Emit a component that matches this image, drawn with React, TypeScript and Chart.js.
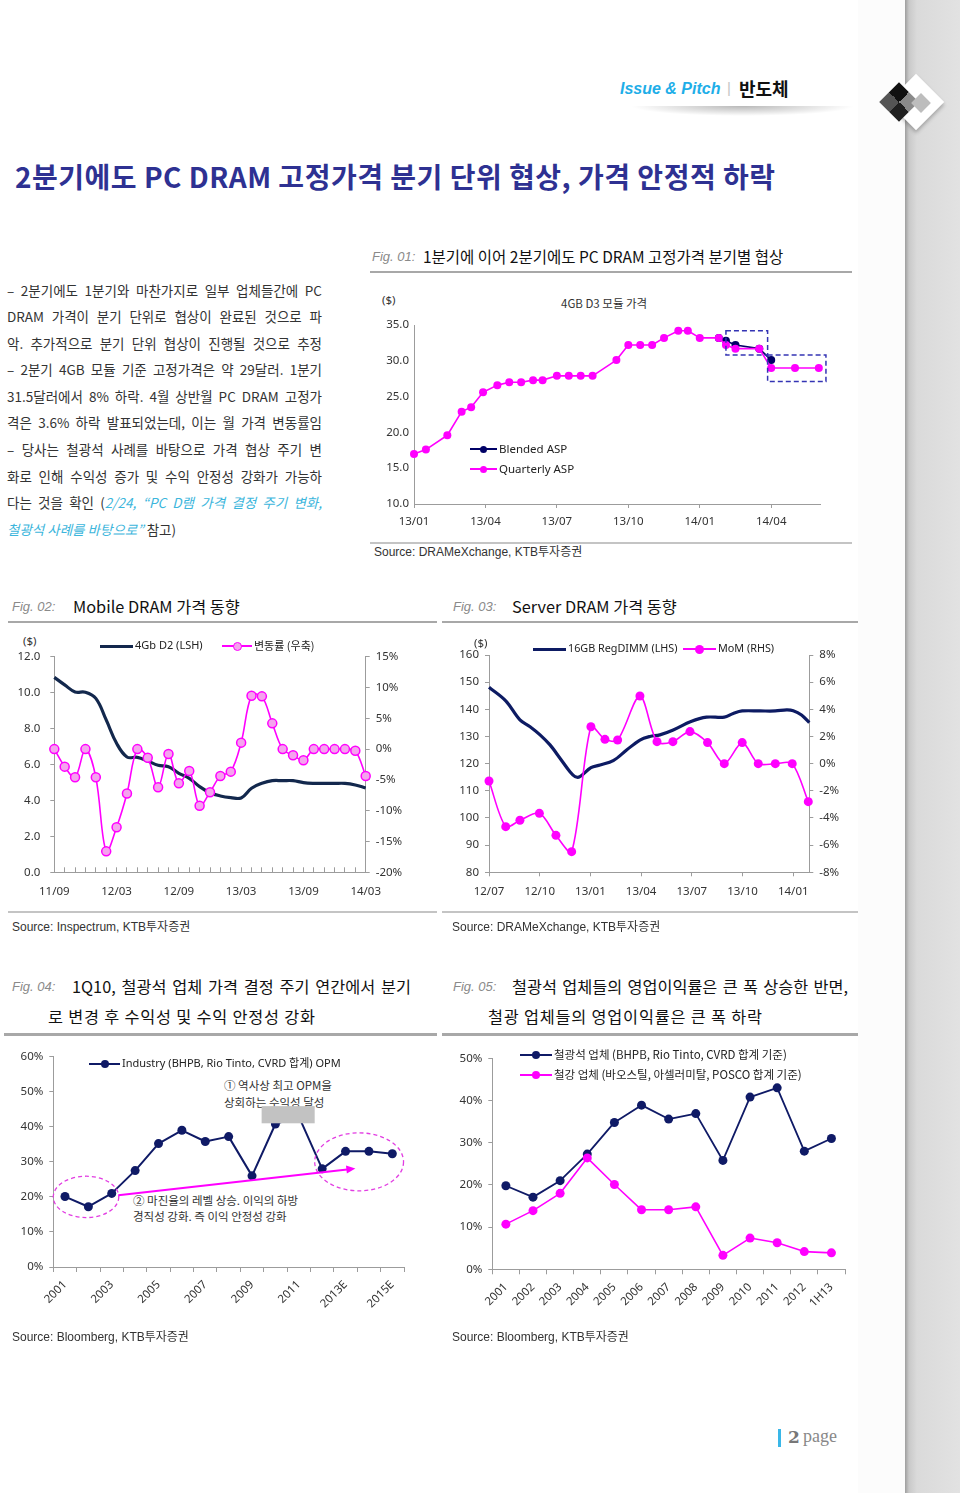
import React, { useEffect, useRef } from 'react';
import { Chart, registerables } from 'chart.js';
Chart.register(...registerables);

// ---------------- Fig 01 data ----------------
const fig01Months = [0, 0.5, 1.4, 2, 2.4, 2.9, 3.5, 4, 4.5, 5, 5.4, 6, 6.5, 7, 7.5, 8.5, 9, 9.5, 10, 10.5, 11.1, 11.5, 12, 12.8, 13.1, 13.5, 14.5, 15, 16, 17];
const fig01Quarterly = [17.0, 17.6, 19.6, 22.9, 23.5, 25.6, 26.6, 27.0, 27.0, 27.3, 27.3, 27.9, 27.9, 27.9, 27.9, 30.1, 32.2, 32.2, 32.2, 33.2, 34.2, 34.2, 33.2, 33.2, 32.2, 31.7, 31.7, 29.0, 29.0, 29.0];
const fig01Blended: (number | null)[] = [null, null, null, null, null, null, null, null, null, null, null, null, null, null, null, null, null, null, null, null, null, null, null, 33.2, 32.8, 32.2, 31.7, 30.1, null, null];
const fig01TickMonths = [0, 3, 6, 9, 12, 15];
const fig01TickLabels = ['13/01', '13/04', '13/07', '13/10', '14/01', '14/04'];

// ---------------- Fig 02 data ----------------
const fig02Price = [10.85, 10.43, 10.04, 10.02, 9.68, 8.48, 7.18, 6.42, 6.4, 6.2, 5.96, 5.88, 5.51, 5.23, 4.77, 4.43, 4.25, 4.16, 4.14, 4.68, 4.95, 5.1, 5.1, 5.1, 4.99, 4.95, 4.95, 4.95, 4.95, 4.86, 4.69];
const fig02Change = [0, -2.85, -4.58, 0, -4.58, -16.6, -12.7, -7.2, 0, -1.4, -6.2, -0.8, -5.55, -3.55, -9.2, -7.0, -4.36, -3.66, 1.05, 8.67, 8.56, 4.18, 0, -1.0, -1.8, 0, 0, 0, 0, -0.27, -4.36];
const fig02TickLabels = ['11/09', '12/03', '12/09', '13/03', '13/09', '14/03'];

// ---------------- Fig 03 data ----------------
const fig03PriceMonths = [0, 0.99, 1.83, 2.43, 3.02, 3.61, 4.2, 4.79, 5.09, 5.38, 6.03, 6.57, 7.35, 8.14, 8.93, 9.52, 10.11, 10.9, 11.95, 12.87, 13.92, 14.45, 14.98, 16.03, 16.94, 17.61, 18.0, 18.49, 18.95];
const fig03Price = [148.1, 143.1, 136.1, 133.6, 130.6, 126.9, 122.0, 117.0, 115.2, 115.2, 118.5, 119.5, 121.1, 125.0, 128.7, 130.0, 130.6, 132.4, 135.5, 137.1, 137.1, 138.5, 139.4, 139.4, 139.4, 139.8, 139.5, 137.9, 135.1];
const fig03MomMonths = [0, 0.99, 1.83, 2.98, 3.96, 4.89, 6.03, 6.86, 7.61, 8.93, 9.94, 10.88, 11.89, 12.93, 13.92, 14.98, 15.93, 16.94, 17.94, 18.89];
const fig03Mom = [-1.28, -4.64, -4.17, -3.66, -5.28, -6.48, 2.72, 1.79, 1.74, 4.98, 1.62, 1.62, 2.36, 1.55, 0.0, 1.55, 0.0, 0.0, 0.0, -2.8];
const fig03TickMonths = [0, 3, 6, 9, 12, 15, 18];
const fig03TickLabels = ['12/07', '12/10', '13/01', '13/04', '13/07', '13/10', '14/01'];

// ---------------- Fig 04 data ----------------
const fig04Years = ['2001', '2002', '2003', '2004', '2005', '2006', '2007', '2008', '2009', '2010', '2011', '2012', '2013E', '2014E', '2015E'];
const fig04Opm = [20.1, 17.2, 21.0, 27.5, 35.2, 39.0, 35.8, 37.2, 26.0, 40.8, 43.0, 28.0, 33.0, 33.0, 32.3];

// ---------------- Fig 05 data ----------------
const fig05Years = ['2001', '2002', '2003', '2004', '2005', '2006', '2007', '2008', '2009', '2010', '2011', '2012', '1H13'];
const fig05IronOre = [19.8, 17.1, 21.0, 27.3, 34.8, 38.9, 35.6, 36.9, 25.8, 40.8, 43.0, 28.0, 31.0];
const fig05Steel = [10.7, 13.9, 18.0, 26.4, 20.1, 14.1, 14.1, 14.8, 3.3, 7.4, 6.3, 4.2, 3.9];

// ---------------- annotations (in data units) ----------------
const fig01Boxes = [
  { x0: 13.1, x1: 14.85, y0: 34.2, y1: 30.8 },
  { x0: 14.85, x1: 17.3, y0: 30.8, y1: 27.1 },
];
const fig04Ellipses = [
  { cx: 0.9, cy: 20.0, rx: 1.4, ry: 5.9 },
  { cx: 12.58, cy: 30.0, rx: 1.9, ry: 8.27 },
];
const fig04Arrow = { x0: 2.28, y0: 20.5, x1: 12.42, y1: 28.1 };
const fig04Cover = { x0: 8.41, x1: 10.68, y0: 45.9, y1: 41.0 };

// ---------------- styles ----------------
const NAVY = '#0f1a66';
const NAVY_THICK = '#13284d';
const MAGENTA = '#ff00ff';
const PINK_FILL = '#f5a3ee';
const AX = '#9c9c9c';
const TICK_FAMILY = "'Noto Sans', 'Noto Sans CJK KR', sans-serif";
const KR = "'Noto Sans CJK KR', 'Noto Sans', sans-serif";
const LAT = "'Liberation Sans', 'Noto Sans CJK KR', sans-serif";

function axis(o: any) {
  return {
    type: o.type,
    position: o.position,
    min: o.min,
    max: o.max,
    offset: o.offset ?? false,
    border: { display: true, color: AX, width: 1 },
    grid: {
      display: true,
      drawOnChartArea: false,
      drawTicks: o.drawTicks ?? true,
      tickLength: o.tickLength ?? 4,
      color: AX,
      lineWidth: 1,
      offset: o.gridOffset ?? false,
    },
    ticks: {
      color: '#333',
      font: { family: TICK_FAMILY, size: o.fontSize ?? 11.5 },
      padding: o.padding ?? 4,
      autoSkip: false,
      maxRotation: o.rotation ?? 0,
      minRotation: o.rotation ?? 0,
      stepSize: o.stepSize,
      callback: o.callback,
    },
    afterBuildTicks: o.tickValues
      ? (s: any) => {
          s.ticks = o.tickValues.map((v: number) => ({ value: v }));
        }
      : undefined,
    afterFit: (s: any) => {
      if (o.width != null) s.width = o.width;
      if (o.height != null) s.height = o.height;
    },
  };
}

const baseOptions = (padding: any) => ({
  responsive: false,
  animation: false,
  devicePixelRatio: 1,
  layout: { padding },
  plugins: { legend: { display: false }, tooltip: { enabled: false } },
  elements: { line: { borderJoinStyle: 'round' } },
});

const fig01BoxPlugin = {
  id: 'fig01Boxes',
  afterDatasetsDraw(chart: any) {
    const { ctx, scales } = chart;
    ctx.save();
    ctx.strokeStyle = '#3434b4';
    ctx.lineWidth = 1.5;
    ctx.setLineDash([5, 3]);
    fig01Boxes.forEach((b) => {
      const x0 = scales.x.getPixelForValue(b.x0);
      const x1 = scales.x.getPixelForValue(b.x1);
      const y0 = scales.y.getPixelForValue(b.y0);
      const y1 = scales.y.getPixelForValue(b.y1);
      ctx.strokeRect(x0, y0, x1 - x0, y1 - y0);
    });
    ctx.restore();
  },
};

const fig04Plugin = {
  id: 'fig04Notes',
  afterDatasetsDraw(chart: any) {
    const { ctx, scales } = chart;
    const X = (v: number) => scales.x.getPixelForValue(v);
    const Y = (v: number) => scales.y.getPixelForValue(v);
    ctx.save();
    ctx.strokeStyle = '#e23de2';
    ctx.lineWidth = 1.3;
    ctx.setLineDash([4, 3]);
    fig04Ellipses.forEach((e) => {
      const cx = X(e.cx);
      const cy = Y(e.cy);
      const rx = Math.abs(X(e.cx + e.rx) - cx);
      const ry = Math.abs(Y(e.cy + e.ry) - cy);
      ctx.beginPath();
      ctx.ellipse(cx, cy, rx, ry, 0, 0, Math.PI * 2);
      ctx.stroke();
    });
    ctx.setLineDash([]);
    const ax0 = X(fig04Arrow.x0), ay0 = Y(fig04Arrow.y0);
    const ax1 = X(fig04Arrow.x1), ay1 = Y(fig04Arrow.y1);
    const ang = Math.atan2(ay1 - ay0, ax1 - ax0);
    ctx.strokeStyle = MAGENTA;
    ctx.fillStyle = MAGENTA;
    ctx.lineWidth = 2;
    ctx.beginPath();
    ctx.moveTo(ax0, ay0);
    ctx.lineTo(ax1 - 6 * Math.cos(ang), ay1 - 6 * Math.sin(ang));
    ctx.stroke();
    ctx.beginPath();
    ctx.moveTo(ax1, ay1);
    ctx.lineTo(ax1 - 9 * Math.cos(ang) + 4 * Math.sin(ang), ay1 - 9 * Math.sin(ang) - 4 * Math.cos(ang));
    ctx.lineTo(ax1 - 9 * Math.cos(ang) - 4 * Math.sin(ang), ay1 - 9 * Math.sin(ang) + 4 * Math.cos(ang));
    ctx.closePath();
    ctx.fill();
    ctx.fillStyle = '#c2c2c2';
    const bx0 = X(fig04Cover.x0), bx1 = X(fig04Cover.x1);
    const by0 = Y(fig04Cover.y0), by1 = Y(fig04Cover.y1);
    ctx.fillRect(bx0, by0, bx1 - bx0, by1 - by0);
    ctx.restore();
  },
};

function fig01Config() {
  return {
    type: 'line',
    data: {
      datasets: [
        {
          label: 'Quarterly ASP',
          data: fig01Months.map((m, i) => ({ x: m, y: fig01Quarterly[i] })),
          borderColor: MAGENTA,
          backgroundColor: MAGENTA,
          borderWidth: 1.6,
          pointRadius: 4,
          pointBorderWidth: 0,
          tension: 0,
          clip: false,
        },
        {
          label: 'Blended ASP',
          data: fig01Months.map((m, i) => ({ x: m, y: fig01Blended[i] })),
          borderColor: '#000066',
          backgroundColor: '#000066',
          borderWidth: 1.6,
          pointRadius: 4,
          pointBorderWidth: 0,
          tension: 0,
          spanGaps: false,
          clip: false,
        },
      ],
    },
    options: {
      ...baseOptions({ top: 35, right: 20, left: 0, bottom: 0 }),
      scales: {
        x: axis({ type: 'linear', position: 'bottom', min: 0, max: 17.05, tickValues: fig01TickMonths, callback: (_v: any, i: number) => fig01TickLabels[i], height: 36, tickLength: 4, padding: 7 }),
        y: axis({ type: 'linear', position: 'left', min: 10, max: 35, stepSize: 5, callback: (v: any) => Number(v).toFixed(1), width: 44, drawTicks: false, padding: 5 }),
      },
    },
    plugins: [fig01BoxPlugin],
  };
}

function fig02Config() {
  return {
    type: 'line',
    data: {
      datasets: [
        {
          label: '변동률 (우축)',
          yAxisID: 'y1',
          data: fig02Change.map((v, i) => ({ x: i, y: v })),
          borderColor: MAGENTA,
          backgroundColor: PINK_FILL,
          pointBackgroundColor: PINK_FILL,
          pointBorderColor: MAGENTA,
          borderWidth: 1.6,
          pointRadius: 4.5,
          pointBorderWidth: 1.5,
          tension: 0.35,
          clip: false,
        },
        {
          label: '4Gb D2 (LSH)',
          yAxisID: 'y',
          data: fig02Price.map((v, i) => ({ x: i, y: v })),
          borderColor: NAVY_THICK,
          borderWidth: 3.2,
          pointRadius: 0,
          tension: 0.4,
          clip: false,
        },
      ],
    },
    options: {
      ...baseOptions({ top: 26.7, right: 0, left: 0, bottom: 0 }),
      scales: {
        x: axis({
          type: 'linear', position: 'bottom', min: 0, max: 30,
          tickValues: fig02Price.map((_v, i) => i),
          callback: (v: any) => (v % 6 === 0 ? fig02TickLabels[v / 6] : ''),
          height: 37.7, tickLength: -5, padding: 18,
        }),
        y: axis({ type: 'linear', position: 'left', min: 0, max: 12, stepSize: 2, callback: (v: any) => Number(v).toFixed(1), width: 54.3, tickLength: 4, padding: 10 }),
        y1: axis({ type: 'linear', position: 'right', min: -20, max: 15, stepSize: 5, callback: (v: any) => v + '%', width: 54.3, tickLength: 4, padding: 6 }),
      },
    },
  };
}

function fig03Config() {
  return {
    type: 'line',
    data: {
      datasets: [
        {
          label: 'MoM (RHS)',
          yAxisID: 'y1',
          data: fig03MomMonths.map((m, i) => ({ x: m, y: fig03Mom[i] })),
          borderColor: MAGENTA,
          backgroundColor: MAGENTA,
          borderWidth: 1.6,
          pointRadius: 4.5,
          pointBorderWidth: 0,
          tension: 0.3,
          clip: false,
        },
        {
          label: '16GB RegDIMM (LHS)',
          yAxisID: 'y',
          data: fig03PriceMonths.map((m, i) => ({ x: m, y: fig03Price[i] })),
          borderColor: '#0d1b63',
          borderWidth: 3.2,
          pointRadius: 0,
          tension: 0.35,
          clip: false,
        },
      ],
    },
    options: {
      ...baseOptions({ top: 25, right: 0, left: 0, bottom: 0 }),
      scales: {
        x: axis({ type: 'linear', position: 'bottom', min: 0, max: 18.95, tickValues: fig03TickMonths, callback: (_v: any, i: number) => fig03TickLabels[i], height: 37.7, tickLength: 4, padding: 9 }),
        y: axis({ type: 'linear', position: 'left', min: 80, max: 160, stepSize: 10, callback: (v: any) => String(v), width: 49, tickLength: 4, padding: 6 }),
        y1: axis({ type: 'linear', position: 'right', min: -8, max: 8, stepSize: 2, callback: (v: any) => v + '%', width: 50.7, tickLength: 4, padding: 6 }),
      },
    },
  };
}

function fig04Config() {
  return {
    type: 'line',
    data: {
      labels: fig04Years,
      datasets: [
        {
          label: 'Industry (BHPB, Rio Tinto, CVRD 합계) OPM',
          data: fig04Opm,
          borderColor: NAVY,
          backgroundColor: NAVY,
          borderWidth: 2,
          pointRadius: 4.5,
          pointBorderWidth: 0,
          tension: 0,
          clip: false,
        },
      ],
    },
    options: {
      ...baseOptions({ top: 16.7, right: 16, left: 0, bottom: 0 }),
      scales: {
        x: axis({ type: 'category', position: 'bottom', offset: true, gridOffset: true, rotation: 45, callback: (_v: any, i: number) => (i % 2 === 0 ? fig04Years[i] : ''), height: 63, tickLength: 5, padding: 6 }),
        y: axis({ type: 'linear', position: 'left', min: 0, max: 60, stepSize: 10, callback: (v: any) => v + '%', width: 53.3, tickLength: 4, padding: 6 }),
      },
    },
    plugins: [fig04Plugin],
  };
}

function fig05Config() {
  return {
    type: 'line',
    data: {
      labels: fig05Years,
      datasets: [
        {
          label: '철강 업체 (바오스틸, 아셀러미탈, POSCO 합계 기준)',
          data: fig05Steel,
          borderColor: MAGENTA,
          backgroundColor: MAGENTA,
          borderWidth: 1.6,
          pointRadius: 4.5,
          pointBorderWidth: 0,
          tension: 0,
          clip: false,
        },
        {
          label: '철광석 업체 (BHPB, Rio Tinto, CVRD 합계 기준)',
          data: fig05IronOre,
          borderColor: NAVY,
          backgroundColor: NAVY,
          borderWidth: 1.8,
          pointRadius: 4.5,
          pointBorderWidth: 0,
          tension: 0,
          clip: false,
        },
      ],
    },
    options: {
      ...baseOptions({ top: 18.3, right: 15, left: 0, bottom: 0 }),
      scales: {
        x: axis({ type: 'category', position: 'bottom', offset: true, gridOffset: true, rotation: 45, callback: (_v: any, i: number) => fig05Years[i], height: 60.7, tickLength: 5, padding: 6 }),
        y: axis({ type: 'linear', position: 'left', min: 0, max: 50, stepSize: 10, callback: (v: any) => v + '%', width: 52.3, tickLength: 4, padding: 6 }),
      },
    },
  };
}

function ChartCanvas({ left, top, width, height, config }: { left: number; top: number; width: number; height: number; config: () => any }) {
  const ref = useRef<HTMLCanvasElement | null>(null);
  useEffect(() => {
    if (!ref.current) return;
    const chart = new Chart(ref.current, config());
    return () => chart.destroy();
  }, []);
  return <canvas ref={ref} width={width} height={height} style={{ position: 'absolute', left, top, width, height }} />;
}

function T({ x, y, size = 12, children, style = {} }: { x: number; y: number; size?: number; children: any; style?: any }) {
  const lh = Math.round(size * 1.3);
  return (
    <div style={{ position: 'absolute', left: x, top: y - lh / 2 - size * 0.05, fontSize: size, lineHeight: lh + 'px', whiteSpace: 'nowrap', ...style }}>
      {children}
    </div>
  );
}

function Line({ x, y, w, h, color }: { x: number; y: number; w: number; h: number; color: string }) {
  return <div style={{ position: 'absolute', left: x, top: y, width: w, height: h, background: color }} />;
}

function Leg({ x, y, w, color, lw, dotR = 0, dotFill, dotBorder, text, size = 11.5, font = TICK_FAMILY }: any) {
  return (
    <>
      <div style={{ position: 'absolute', left: x, top: y - lw / 2, width: w, height: lw, background: color }} />
      {dotR > 0 && (
        <div
          style={{
            position: 'absolute',
            left: x + w / 2 - dotR,
            top: y - dotR,
            width: dotR * 2,
            height: dotR * 2,
            borderRadius: '50%',
            background: dotFill,
            boxSizing: 'border-box',
            border: dotBorder ? `1.5px solid ${dotBorder}` : 'none',
          }}
        />
      )}
      <T x={x + w + 2} y={y} size={size} style={{ fontFamily: font, color: '#222' }}>
        {text}
      </T>
    </>
  );
}

const FIG = { fontFamily: LAT, fontStyle: 'italic', color: '#8a8a8a' };
const FIGT = { fontFamily: KR, color: '#111' };
const SRC = { fontFamily: LAT, color: '#333' };
const BODY = { fontFamily: KR, color: '#333', width: 315, textAlign: 'justify', textAlignLast: 'justify' };
const LINK = { color: '#3cb6dc', fontStyle: 'italic' };

export default function App() {
  return (
    <div style={{ position: 'absolute', left: 0, top: 0, width: 960, height: 1493, background: '#fff', overflow: 'hidden', fontFamily: KR, color: '#222' }}>
      {/* right decorative strip */}
      <div style={{ position: 'absolute', left: 858, top: 0, width: 47, height: 1493, background: '#fcfcfc' }} />
      <div style={{ position: 'absolute', left: 905, top: 0, width: 55, height: 1493, background: 'linear-gradient(to right, #9e9e9e 0px, #c9c9c9 4px, #dadada 12px, #e2e2e2 100%)' }} />
      {/* logo */}
      <div style={{ position: 'absolute', left: 896, top: 82, width: 40, height: 40, background: '#fff', transform: 'rotate(45deg)', boxShadow: '2px 2px 4px rgba(0,0,0,0.25)' }} />
      <div style={{ position: 'absolute', left: 885, top: 88, width: 28, height: 28, transform: 'rotate(45deg)', background: 'conic-gradient(#8a8a8a 0 25%, #202020 0 50%, #555 0 75%, #111 0)' }} />
      <div style={{ position: 'absolute', left: 914, top: 96, width: 14, height: 14, transform: 'rotate(45deg)', background: '#bdbdbd' }} />

      {/* header */}
      <T x={620} y={89} size={16} style={{ fontFamily: LAT, fontWeight: 'bold', fontStyle: 'italic', color: '#1eaee8' }}>Issue &amp; Pitch</T>
      <T x={727} y={89} size={15} style={{ fontFamily: LAT, color: '#c4c4c4' }}>|</T>
      <T x={739} y={89} size={18} style={{ fontFamily: KR, fontWeight: 'bold', color: '#111' }}>반도체</T>
      <div style={{ position: 'absolute', left: 630, top: 106, width: 225, height: 10, background: 'radial-gradient(ellipse at 50% 0%, rgba(0,0,0,0.28), rgba(0,0,0,0) 70%)' }} />

      {/* main title */}
      <T x={15} y={177} size={28} style={{ fontFamily: KR, fontWeight: 'bold', color: '#2e3192', letterSpacing: 0.5 }}>
        2분기에도 PC DRAM 고정가격 분기 단위 협상, 가격 안정적 하락
      </T>

      {/* left body text */}
      <T x={7} y={291} size={13.5} style={BODY}>– 2분기에도 1분기와 마찬가지로 일부 업체들간에 PC</T>
      <T x={7} y={317} size={13.5} style={BODY}>DRAM 가격이 분기 단위로 협상이 완료된 것으로 파</T>
      <T x={7} y={343.5} size={13.5} style={BODY}>악. 추가적으로 분기 단위 협상이 진행될 것으로 추정</T>
      <T x={7} y={370} size={13.5} style={BODY}>– 2분기 4GB 모듈 기준 고정가격은 약 29달러. 1분기</T>
      <T x={7} y={397} size={13.5} style={BODY}>31.5달러에서 8% 하락. 4월 상반월 PC DRAM 고정가</T>
      <T x={7} y={423} size={13.5} style={BODY}>격은 3.6% 하락 발표되었는데, 이는 월 가격 변동률임</T>
      <T x={7} y={450} size={13.5} style={BODY}>– 당사는 철광석 사례를 바탕으로 가격 협상 주기 변</T>
      <T x={7} y={477} size={13.5} style={BODY}>화로 인해 수익성 증가 및 수익 안정성 강화가 가능하</T>
      <T x={7} y={503} size={13.5} style={BODY}>
        다는 것을 확인 (<span style={LINK}>2/24, “PC D램 가격 결정 주기 변화,</span>
      </T>
      <T x={7} y={530} size={13.5} style={{ fontFamily: KR, color: '#333' }}>
        <span style={LINK}>철광석 사례를 바탕으로”</span> 참고)
      </T>

      {/* Fig 01 */}
      <T x={372} y={257} size={13} style={FIG}>Fig. 01:</T>
      <T x={423} y={257} size={15.5} style={FIGT}>1분기에 이어 2분기에도 PC DRAM 고정가격 분기별 협상</T>
      <Line x={370} y={271} w={482} h={2} color="#a8a8a8" />
      <T x={382} y={300} size={11.5} style={{ fontFamily: TICK_FAMILY, color: '#333' }}>($)</T>
      <T x={561} y={304} size={11.5} style={{ fontFamily: KR, color: '#333' }}>4GB D3 모듈 가격</T>
      <ChartCanvas left={370} top={290} width={470} height={250} config={fig01Config} />
      <Leg x={470} y={449} w={27} color="#000066" lw={1.6} dotR={3.5} dotFill="#000066" text="Blended ASP" />
      <Leg x={470} y={469} w={27} color={MAGENTA} lw={1.6} dotR={3.5} dotFill={MAGENTA} text="Quarterly ASP" />
      <Line x={370} y={542} w={482} h={2} color="#c4c4c4" />
      <T x={374} y={553} size={12} style={SRC}>Source: DRAMeXchange, KTB투자증권</T>

      {/* Fig 02 */}
      <T x={12} y={607} size={13} style={FIG}>Fig. 02:</T>
      <T x={73} y={607} size={16.3} style={FIGT}>Mobile DRAM 가격 동향</T>
      <Line x={8} y={621} w={429} h={2} color="#a8a8a8" />
      <T x={23} y={641} size={11.5} style={{ fontFamily: TICK_FAMILY, color: '#333' }}>($)</T>
      <ChartCanvas left={0} top={630} width={420} height={280} config={fig02Config} />
      <Leg x={100} y={646} w={33} color={NAVY_THICK} lw={3} text="4Gb D2 (LSH)" size={11} />
      <Leg x={222} y={646} w={30} color={MAGENTA} lw={1.6} dotR={4.5} dotFill={PINK_FILL} dotBorder={MAGENTA} text="변동률 (우축)" font={KR} size={11} />
      <Line x={8} y={911} w={429} h={2} color="#c4c4c4" />
      <T x={12} y={928} size={12} style={SRC}>Source: Inspectrum, KTB투자증권</T>

      {/* Fig 03 */}
      <T x={453} y={607} size={13} style={FIG}>Fig. 03:</T>
      <T x={512} y={607} size={16.3} style={FIGT}>Server DRAM 가격 동향</T>
      <Line x={442} y={621} w={416} h={2} color="#a8a8a8" />
      <T x={474} y={643} size={11.5} style={{ fontFamily: TICK_FAMILY, color: '#333' }}>($)</T>
      <ChartCanvas left={440} top={630} width={420} height={280} config={fig03Config} />
      <Leg x={533} y={649} w={33} color="#0d1b63" lw={3} text="16GB RegDIMM (LHS)" size={10.8} />
      <Leg x={683} y={649} w={33} color={MAGENTA} lw={1.6} dotR={4.5} dotFill={MAGENTA} text="MoM (RHS)" size={10.8} />
      <Line x={442} y={911} w={416} h={2} color="#c4c4c4" />
      <T x={452} y={928} size={12} style={SRC}>Source: DRAMeXchange, KTB투자증권</T>

      {/* Fig 04 */}
      <T x={12} y={987} size={13} style={FIG}>Fig. 04:</T>
      <T x={72} y={987} size={16.3} style={{ ...FIGT, width: 339, textAlign: 'justify', textAlignLast: 'justify' }}>1Q10, 철광석 업체 가격 결정 주기 연간에서 분기</T>
      <T x={48} y={1017} size={16.3} style={{ ...FIGT, letterSpacing: 0.8 }}>로 변경 후 수익성 및 수익 안정성 강화</T>
      <Line x={4} y={1033} w={433} h={3} color="#a8a8a8" />
      <T x={224} y={1086} size={11.5} style={{ fontFamily: KR, color: '#333' }}>① 역사상 최고 OPM을</T>
      <T x={224} y={1103} size={11.5} style={{ fontFamily: KR, color: '#333' }}>상회하는 수익성 달성</T>
      <T x={133} y={1201} size={11.5} style={{ fontFamily: KR, color: '#333' }}>② 마진율의 레벨 상승. 이익의 하방</T>
      <T x={133} y={1217} size={11.5} style={{ fontFamily: KR, color: '#333' }}>경직성 강화. 즉 이익 안정성 강화</T>
      <ChartCanvas left={0} top={1040} width={420} height={290} config={fig04Config} />
      <Leg x={89} y={1064} w={31} color={NAVY} lw={2} dotR={4} dotFill={NAVY} text="Industry (BHPB, Rio Tinto, CVRD 합계) OPM" size={11} />
      <T x={12} y={1338} size={12} style={SRC}>Source: Bloomberg, KTB투자증권</T>

      {/* Fig 05 */}
      <T x={453} y={987} size={13} style={FIG}>Fig. 05:</T>
      <T x={512} y={987} size={16.3} style={{ ...FIGT, width: 336, textAlign: 'justify', textAlignLast: 'justify' }}>철광석 업체들의 영업이익률은 큰 폭 상승한 반면,</T>
      <T x={488} y={1017} size={16.3} style={{ ...FIGT, letterSpacing: 0.8 }}>철광 업체들의 영업이익률은 큰 폭 하락</T>
      <Line x={442} y={1033} w={416} h={3} color="#a8a8a8" />
      <ChartCanvas left={440} top={1040} width={420} height={290} config={fig05Config} />
      <Leg x={520} y={1055} w={32} color={NAVY} lw={1.8} dotR={4} dotFill={NAVY} text="철광석 업체 (BHPB, Rio Tinto, CVRD 합계 기준)" size={11.5} font={KR} />
      <Leg x={520} y={1075} w={32} color={MAGENTA} lw={1.6} dotR={4} dotFill={MAGENTA} text="철강 업체 (바오스틸, 아셀러미탈, POSCO 합계 기준)" size={11.5} font={KR} />
      <T x={452} y={1338} size={12} style={SRC}>Source: Bloomberg, KTB투자증권</T>

      {/* page number */}
      <div style={{ position: 'absolute', left: 778, top: 1429, width: 3, height: 18, background: '#3ab7e8' }} />
      <T x={788} y={1438} size={17} style={{ fontFamily: "'DejaVu Serif', 'Liberation Serif', serif", fontWeight: 'bold', color: '#777' }}>2</T>
      <T x={803} y={1437} size={18} style={{ fontFamily: "'Liberation Serif', serif", color: '#888' }}>page</T>
    </div>
  );
}
